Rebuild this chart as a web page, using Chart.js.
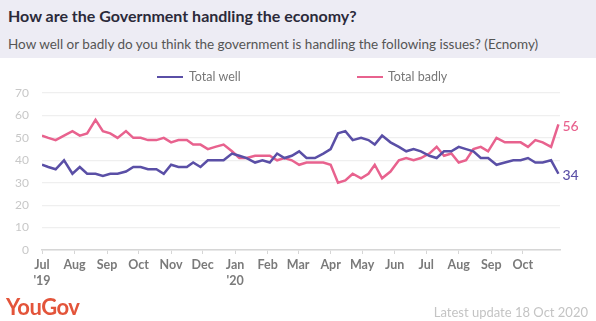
<!DOCTYPE html>
<html>
<head>
<meta charset="utf-8">
<script src="https://cdn.jsdelivr.net/npm/chart.js@4"></script>
<style>
  body { margin: 0; width: 596px; height: 321px; overflow: hidden; background: #fff; font-family: Lato, sans-serif; }
  #head { position: absolute; left: 0; top: 0; width: 596px; height: 58px; background: #edecf4; }
  #title { position: absolute; left: 8px; top: 6px; font-size: 16px; font-weight: 700; color: #2b2a3a; white-space: nowrap; }
  #sub { position: absolute; left: 8px; top: 36px; font-size: 13.5px; color: #555; white-space: nowrap; }
  .key { position: absolute; top: 75.5px; width: 26px; height: 2.5px; }
  .keytxt { position: absolute; top: 69px; font-size: 12.5px; color: #777; white-space: nowrap; }
  #logo { position: absolute; left: 6px; top: 293px; font-size: 22px; font-weight: 700; color: #e3543a; letter-spacing: -0.5px; }
  #upd { position: absolute; right: 8px; top: 304px; font-size: 13px; color: #c4c4c4; white-space: nowrap; }
  #wrap { position: absolute; left: 0; top: 0; width: 596px; height: 321px; }
</style>
</head>
<body>
<div id="head"></div>
<div id="title">How are the Government handling the economy?</div>
<div id="sub">How well or badly do you think the government is handling the following issues? (Ecnomy)</div>
<div id="wrap"><canvas id="chart" width="596" height="321"></canvas></div>
<div class="key" style="left:157px;background:#5a4fa6"></div>
<div class="keytxt" style="left:189px">Total well</div>
<div class="key" style="left:357px;background:#e8628e"></div>
<div class="keytxt" style="left:388px">Total badly</div>
<div id="logo">YouGov</div>
<div id="upd">Latest update 18 Oct 2020</div>
<script>
// Survey dates
const dates = [
  '2019-07-01', '2019-07-07', '2019-07-14', '2019-07-22', '2019-07-30', '2019-08-06', '2019-08-13', '2019-08-21', '2019-08-28', '2019-09-04',
  '2019-09-11', '2019-09-19', '2019-09-26', '2019-10-03', '2019-10-10', '2019-10-18', '2019-10-25', '2019-11-01', '2019-11-08', '2019-11-16',
  '2019-11-22', '2019-11-29', '2019-12-06', '2019-12-13', '2019-12-21', '2019-12-29', '2020-01-05', '2020-01-12', '2020-01-20', '2020-01-27',
  '2020-02-03', '2020-02-10', '2020-02-17', '2020-02-24', '2020-03-02', '2020-03-09', '2020-03-17', '2020-03-25', '2020-04-01', '2020-04-08',
  '2020-04-15', '2020-04-22', '2020-04-30', '2020-05-07', '2020-05-13', '2020-05-20', '2020-05-28', '2020-06-05', '2020-06-12', '2020-06-19',
  '2020-06-26', '2020-07-04', '2020-07-11', '2020-07-18', '2020-07-25', '2020-08-01', '2020-08-08', '2020-08-15', '2020-08-22', '2020-08-29',
  '2020-09-06', '2020-09-14', '2020-09-22', '2020-09-29', '2020-10-06', '2020-10-13', '2020-10-20', '2020-10-28', '2020-11-04'
];

// % saying well / badly
const totalWell = [
  38, 37, 36, 40, 34, 37, 34, 34, 33, 34,
  34, 35, 37, 37, 36, 36, 34, 38, 37, 37,
  39, 37, 40, 40, 40, 43, 42, 41, 39, 40,
  39, 43, 41, 42, 44, 41, 41, 43, 45, 52,
  53, 49, 50, 49, 47, 51, 48, 46, 44, 45,
  44, 42, 41, 44, 44, 46, 45, 44, 41, 41,
  38, 39, 40, 40, 41, 39, 39, 40, 34
];
const totalBadly = [
  51, 50, 49, 51, 53, 51, 52, 58, 53, 52,
  50, 53, 50, 50, 49, 49, 50, 48, 49, 49,
  47, 47, 45, 46, 47, 44, 41, 41, 42, 42,
  42, 40, 41, 40, 38, 39, 39, 39, 38, 30,
  31, 34, 32, 34, 38, 32, 35, 40, 41, 40,
  41, 43, 46, 42, 43, 39, 40, 45, 46, 44,
  50, 48, 48, 48, 46, 49, 48, 46, 56
];

// x axis month ticks
const monthStarts = [
  '2019-07-01', '2019-08-01', '2019-09-01', '2019-10-01', '2019-11-01', '2019-12-01', '2020-01-01', '2020-02-01',
  '2020-03-01', '2020-04-01', '2020-05-01', '2020-06-01', '2020-07-01', '2020-08-01', '2020-09-01', '2020-10-01'
];
const monthLabels = ['Jul', 'Aug', 'Sep', 'Oct', 'Nov', 'Dec', 'Jan', 'Feb', 'Mar', 'Apr', 'May', 'Jun', 'Jul', 'Aug', 'Sep', 'Oct'];
const yearLabels = ["'19", '', '', '', '', '', "'20", '', '', '', '', '', '', '', '', ''];
const yTicks = [0, 10, 20, 30, 40, 50, 60, 70];

const WELL = '#5a4fa6';
const BADLY = '#e8628e';

// days since the first survey
const t0 = Date.parse(dates[0]);
const day = d => Math.round((Date.parse(d) - t0) / 86400000);
const tickDays = monthStarts.map(day);

// value label after the last point of each line
const endLabels = {
  id: 'endLabels',
  afterDatasetsDraw(chart) {
    const c = chart.ctx;
    c.save();
    c.font = '500 14px Lato';
    c.textBaseline = 'middle';
    chart.data.datasets.forEach((ds, i) => {
      const pts = chart.getDatasetMeta(i).data;
      const p = pts[pts.length - 1];
      c.fillStyle = ds.borderColor;
      c.fillText(ds.data[ds.data.length - 1].y, p.x + 4, p.y + 2);
    });
    c.restore();
  }
};

new Chart(document.getElementById('chart'), {
  type: 'line',
  data: {
    datasets: [
      {
        label: 'Total well',
        data: dates.map((d, i) => ({ x: day(d), y: totalWell[i] })),
        borderColor: WELL,
        borderWidth: 2.5,
        pointRadius: 0,
        tension: 0
      },
      {
        label: 'Total badly',
        data: dates.map((d, i) => ({ x: day(d), y: totalBadly[i] })),
        borderColor: BADLY,
        borderWidth: 2.5,
        pointRadius: 0,
        tension: 0
      }
    ]
  },
  options: {
    responsive: false,
    animation: false,
    layout: { padding: { top: 93, right: 36, left: 0, bottom: 0 } },
    plugins: {
      legend: { display: false },
      tooltip: { enabled: false }
    },
    scales: {
      x: {
        type: 'linear',
        min: 0,
        max: 493.5,
        afterFit: s => { s.height = 71; },
        afterBuildTicks: s => { s.ticks = tickDays.map(v => ({ value: v })); },
        grid: { drawOnChartArea: false, drawTicks: true, tickLength: 4, color: '#d6d6d6' },
        border: { display: true, color: '#d6d6d6', width: 1.5 },
        ticks: {
          autoSkip: false,
          maxRotation: 0,
          padding: 3,
          color: '#7a7a7a',
          font: { family: 'Lato', size: 12.5, weight: 'bold', lineHeight: 1.3 },
          callback: v => {
            const i = tickDays.indexOf(v);
            return yearLabels[i] ? [monthLabels[i], yearLabels[i]] : monthLabels[i];
          }
        }
      },
      y: {
        min: 0,
        max: 70,
        afterFit: s => { s.width = 42; },
        afterBuildTicks: s => { s.ticks = yTicks.map(v => ({ value: v })); },
        grid: { drawTicks: false, color: '#efefef', lineWidth: 1.2 },
        border: { display: false },
        ticks: { padding: 13, color: '#c8c8c8', font: { family: 'Lato', size: 12 } }
      }
    }
  },
  plugins: [endLabels]
});
</script>
</body>
</html>
